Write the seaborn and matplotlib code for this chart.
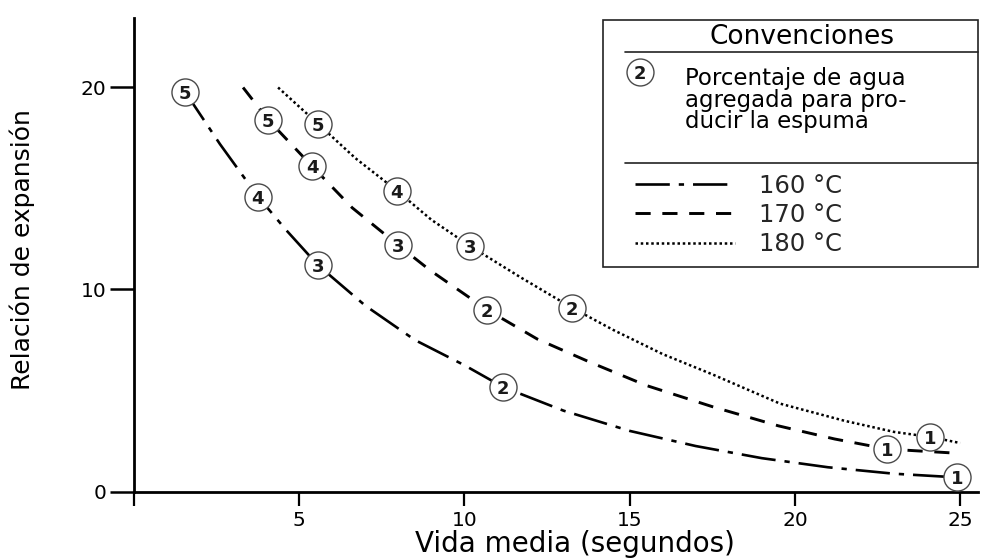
import matplotlib
matplotlib.use("Agg")
import matplotlib.pyplot as plt
from matplotlib.lines import Line2D
from matplotlib.patches import Rectangle
import pandas as pd
import seaborn as sns

# Curve vertices: half-life (s) vs expansion ratio, one list pair per temperature
t160 = [1.54, 2.6, 3.75, 4.6, 5.57, 7.0, 8.5, 10.0, 11.17, 13.0, 15.0, 17.0, 19.0, 21.0, 23.0, 24.9]
r160 = [19.8, 17.2, 14.6, 12.95, 11.2, 9.2, 7.5, 6.25, 5.17, 4.0, 3.0, 2.25, 1.65, 1.2, 0.88, 0.7]

t170 = [3.3, 4.06, 5.39, 6.6, 7.99, 8.96, 10.68, 12.2, 13.8, 15.5, 17.5, 19.5, 21.2, 22.8, 24.85]
r170 = [20.0, 18.4, 16.1, 14.05, 12.2, 10.95, 9.0, 7.55, 6.4, 5.25, 4.2, 3.25, 2.6, 2.1, 1.9]

t180 = [4.36, 5.57, 6.7, 7.95, 9.0, 10.17, 11.7, 13.25, 14.5, 16.0, 17.5, 19.55, 21.5, 23.0, 24.1, 25.0]
r180 = [20.0, 18.2, 16.5, 14.9, 13.45, 12.15, 10.6, 9.1, 8.0, 6.8, 5.8, 4.35, 3.5, 2.95, 2.7, 2.4]

# Numbered points: percentage of water added to produce the foam
water_pct = [5, 4, 3, 2, 1]
pt160_t = [1.54, 3.75, 5.57, 11.17, 24.9]
pt160_r = [19.8, 14.6, 11.2, 5.17, 0.7]
pt170_t = [4.06, 5.39, 7.99, 10.68, 22.8]
pt170_r = [18.4, 16.1, 12.2, 9.0, 2.1]
pt180_t = [5.57, 7.95, 10.17, 13.25, 24.1]
pt180_r = [18.2, 14.9, 12.15, 9.1, 2.7]

series_labels = ["160 °C", "170 °C", "180 °C"]
x_ticks = [0, 5, 10, 15, 20, 25]
x_tick_labels = ["", "5", "10", "15", "20", "25"]
y_ticks = [0, 10, 20]
y_tick_labels = ["0", "10", "20"]

W, H = 982, 558
sns.set_theme(style="white")
plt.rcParams["font.family"] = ["DejaVu Sans"]


def fx(px):
    return px / W


def fy(py):
    return 1 - py / H


fig = plt.figure(figsize=(W / 100, H / 100), dpi=100)
fig.patch.set_facecolor("white")
ax = fig.add_axes([fx(134), fy(491.5), 844 / W, 473.5 / H])
ax.set_facecolor("white")
ax.set_xlim(0, 25.54)
ax.set_ylim(0, 23.44)

for side in ("top", "right"):
    ax.spines[side].set_visible(False)
for side in ("left", "bottom"):
    ax.spines[side].set_color("black")
    ax.spines[side].set_linewidth(2.0)

ax.set_xticks(x_ticks)
ax.set_xticklabels(x_tick_labels)
ax.set_yticks(y_ticks)
ax.set_yticklabels(y_tick_labels)
ax.tick_params(axis="x", bottom=True, direction="out", length=10, width=1.6,
               pad=4, labelsize=14.5, colors="black")
ax.tick_params(axis="y", left=True, direction="out", length=17, width=1.8,
               pad=3, labelsize=14.5, colors="black")

styles = [
    dict(t=t160, r=r160, lw=1.9, dashes=(13, 3.4, 2, 3.4)),
    dict(t=t170, r=r170, lw=2.1, dashes=(5.2, 4.0)),
    dict(t=t180, r=r180, lw=1.8, dashes=(1, 1.1)),
]
handles = []
for st, lab in zip(styles, series_labels):
    df = pd.DataFrame({"t": st["t"], "r": st["r"]})
    sns.lineplot(data=df, x="t", y="r", ax=ax, color="black", lw=st["lw"],
                 sort=False, estimator=None, zorder=2)
    line = ax.lines[-1]
    line.set_dashes(st["dashes"])
    line.set_dash_capstyle("butt")
    line.set_label(lab)
    handles.append(line)

circle_kw = dict(s=380, color="white", edgecolor="#4a4a4a", linewidth=1.0,
                 zorder=3, clip_on=False, legend=False)
for pts_t, pts_r in ((pt160_t, pt160_r), (pt170_t, pt170_r), (pt180_t, pt180_r)):
    sns.scatterplot(x=pts_t, y=pts_r, ax=ax, **circle_kw)
    for n, t, r in zip(water_pct, pts_t, pts_r):
        ax.text(t, r, str(n), ha="center", va="center_baseline", fontsize=13,
                fontweight="bold", color="#1a1a1a", zorder=4)

ax.set_xlabel("Vida media (segundos)", fontsize=20, color="black")
ax.xaxis.set_label_coords((575 - 134) / 844, (491.5 - 544) / 473.5)
ax.xaxis.label.set_va("center")
ax.set_ylabel("Relación de expansión", fontsize=18, color="black")
ax.yaxis.set_label_coords((22 - 134) / 844, (491.5 - 250) / 473.5)
ax.yaxis.label.set_va("center")

# Key box
ink = "#222222"
fig.add_artist(Rectangle((fx(603), fy(267)), 375 / W, 247 / H,
                         transform=fig.transFigure, fill=False, ec=ink, lw=1.2))
for yy in (52, 163):
    fig.add_artist(Line2D([fx(625), fx(978)], [fy(yy), fy(yy)],
                          transform=fig.transFigure, color=ink, lw=1.2))
fig.text(fx(802), fy(37), "Convenciones", ha="center", va="center",
         fontsize=19, color="black")
fig.add_artist(Line2D([fx(640)], [fy(72)], marker="o", ms=19.4, mfc="white",
                      mec="#4a4a4a", mew=1.0, transform=fig.transFigure))
fig.text(fx(640), fy(72), "2", ha="center", va="center_baseline", fontsize=13,
         fontweight="bold", color="#1a1a1a")
fig.text(fx(685), fy(100), "Porcentaje de agua\nagregada para pro-\nducir la espuma",
         ha="left", va="center", fontsize=16.5, linespacing=0.9, color="black")

ax.legend(handles=handles, labels=series_labels, loc="center left",
          bbox_to_anchor=(fx(635), fy(215)), bbox_transform=fig.transFigure,
          frameon=False, fontsize=17.5, handlelength=4.1, handletextpad=1.0,
          labelspacing=0.22, borderpad=0, borderaxespad=0)

fig.savefig("out.png", dpi=100, facecolor="white")
